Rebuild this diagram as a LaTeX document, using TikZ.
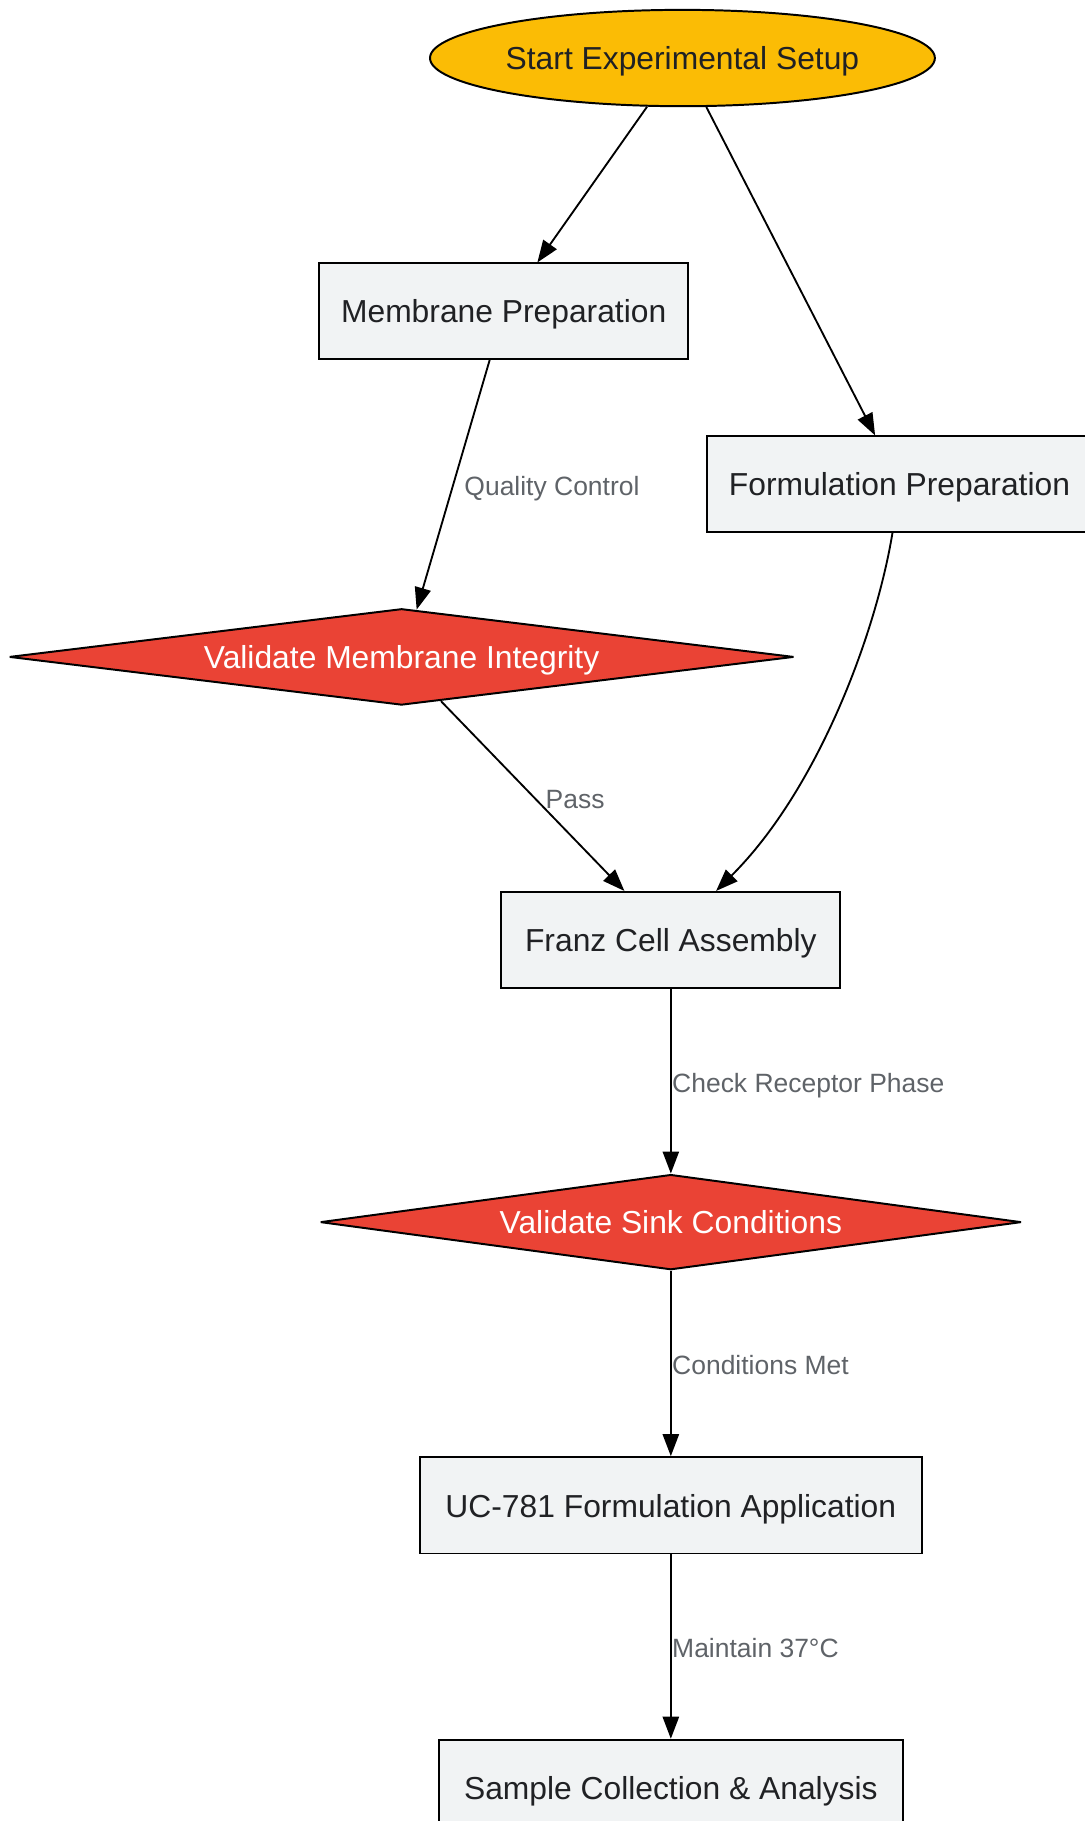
\documentclass[tikz,border=0pt]{standalone}
\usepackage{fontspec}
\setmainfont{Liberation Sans}
\usetikzlibrary{shapes.geometric,arrows.meta,calc}
\definecolor{startfill}{RGB}{251,188,5}
\definecolor{decfill}{RGB}{234,67,53}
\definecolor{boxfill}{RGB}{241,243,244}
\definecolor{txt}{RGB}{32,33,36}
\definecolor{lbl}{RGB}{95,99,104}
\tikzset{
  base/.style={draw=black, line width=1.7pt, inner sep=0pt, text=txt,
    font=\fontsize{27.4}{32}\selectfont, text height=22pt, text depth=1.8pt},
  startnode/.style={base, ellipse, fill=startfill, minimum width=435pt, minimum height=83pt},
  boxnode/.style={base, rectangle, fill=boxfill, minimum height=82pt},
  decnode/.style={base, diamond, fill=decfill, text=white, aspect=8, line join=bevel},
  conn/.style={draw=black, line width=1.6pt, -{Triangle[length=19pt,width=14pt]}},
  elabel/.style={text=lbl, inner sep=0pt, anchor=west, font=\fontsize{22.8}{26}\selectfont,
    text height=18.6pt, text depth=0.8pt}
}
\begin{document}
\begin{tikzpicture}[x=1pt,y=-1pt]
\useasboundingbox (0,0) rectangle (934,1569);
\node[startnode] (start) at (588,50) {Start Experimental Setup};
\node[boxnode, minimum width=318pt] (mem) at (434,268) {Membrane Preparation};
\node[boxnode, minimum width=332pt] (form) at (775,417) {Formulation Preparation};
\node[decnode, minimum width=676pt, minimum height=83pt] (vmi) at (346,566) {Validate Membrane Integrity};
\node[boxnode, minimum width=292pt, minimum height=83pt] (franz) at (578,810) {Franz Cell Assembly};
\node[decnode, minimum width=604pt, minimum height=82pt] (vsc) at (578,1053) {Validate Sink Conditions};
\node[boxnode, minimum width=432pt, minimum height=83pt] (uc) at (578,1297) {UC-781 Formulation Application};
\node[boxnode, minimum width=400pt] (sample) at (578,1540) {Sample Collection \& Analysis};

\draw[conn] (start.-126) -- ($(mem.north)+(29,0)$);
\draw[conn] (start.-64) -- ($(form.north)+(-21,0)$);
\draw[conn] ($(mem.south)+(-12,0)$) -- ($(vmi.north)+(13,1.6)$);
\draw[conn] ($(vmi.south)+(34,-4.2)$) -- ($(franz.north)+(-40,0)$);
\draw[conn] ($(form.south)+(-6,0)$) .. controls (755,545) and (705,680) .. ($(franz.north)+(39,0)$);
\draw[conn] (franz.south) -- (vsc.north);
\draw[conn] (vsc.south) -- (uc.north);
\draw[conn] (uc.south) -- (sample.north);

\node[elabel] (l1) at (400,418) {Quality Control};
\node[elabel] (l2) at (470,688) {Pass};
\node[elabel] (l3) at (579,932) {Check Receptor Phase};
\node[elabel] (l4) at (579,1175) {Conditions Met};
\node[elabel] (l5) at (579,1419) {Maintain 37°C};
\end{tikzpicture}
\end{document}
